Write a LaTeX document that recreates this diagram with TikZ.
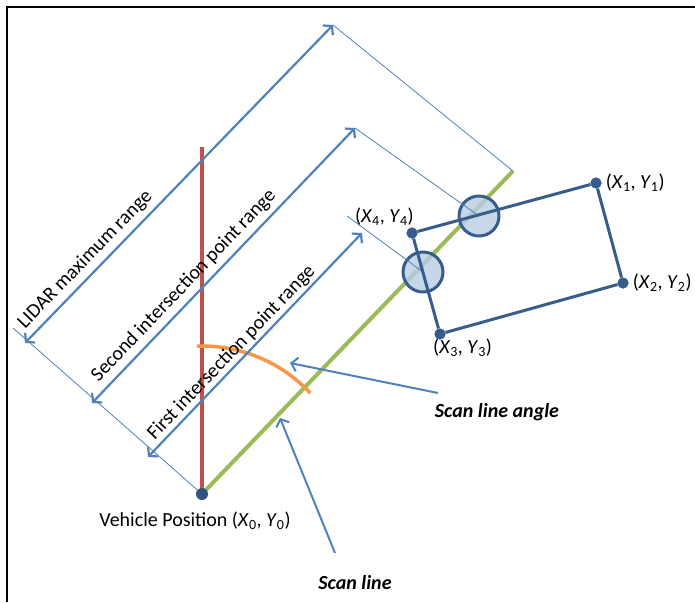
\documentclass[tikz,border=0pt]{standalone}
\usepackage{fontspec}
\setmainfont{Carlito}
\usepackage{tikz}
\usetikzlibrary{arrows.meta,positioning}
\definecolor{dimBlue}{HTML}{4F81BD}
\definecolor{objEdge}{HTML}{385D8A}
\definecolor{hitCol}{HTML}{B9CDE5}
\definecolor{scanCol}{HTML}{9BBB59}
\definecolor{headCol}{HTML}{C0504D}
\definecolor{angCol}{HTML}{F79646}
\tikzset{
  dimarr/.style={{Straight Barb[length=6pt,width=14pt]}-{Straight Barb[length=6pt,width=14pt]},
        draw=dimBlue, line width=2.2pt},
  extln/.style={draw=dimBlue, line width=0.8pt},
  ptr/.style={-{Straight Barb[length=6pt,width=14pt]}, draw=dimBlue, line width=2pt},
  corner/.style={circle, fill=objEdge, inner sep=0pt, minimum size=11pt},
  hit/.style={circle, draw=objEdge, fill=hitCol, fill opacity=0.8, line width=3pt,
        minimum size=40pt, inner sep=0pt},
  lbl/.style={font=\fontsize{20}{24}\selectfont, inner sep=0pt},
  rlbl/.style={font=\fontsize{20}{24}\selectfont, sloped, above, inner sep=#1},
  callout/.style={font=\fontsize{20}{24}\selectfont\bfseries\itshape, inner sep=0pt},
}
\newcommand{\cornerlbl}[1]{(\textit{X}\textsubscript{#1}, \textit{Y}\textsubscript{#1})}

\begin{document}
\begin{tikzpicture}[x=1pt,y=-1pt]
  \useasboundingbox (0,0) rectangle (695,602);
  \draw[line width=2.5pt] (7,602) -- (7,7) -- (695,7);
  % vehicle, heading and scan line
  \coordinate (veh) at (202,494);
  \coordinate (headTop) at (202,147);
  \coordinate (scanEnd) at (513,171);
  \draw[headCol, line width=4pt] (veh) -- (headTop);
  \draw[scanCol, line width=4pt] (veh) -- (scanEnd);
  \draw[angCol, line width=3.5pt] (veh) ++(-92:148) arc[start angle=-92, end angle=-43, radius=148];
  % object corners
  \node[corner] (p1) at (596,183) {};
  \node[corner] (p2) at (623,283) {};
  \node[corner] (p3) at (440,334) {};
  \node[corner] (p4) at (412,233) {};
  % range arrows
  \coordinate (a1s) at (25,343);  \coordinate (a1e) at (333,25);
  \coordinate (a2s) at (92,403);  \coordinate (a2e) at (355,128);
  \coordinate (a3s) at (148,457); \coordinate (a3e) at (362,233);
  \coordinate (baseTop) at (13,328);
  \coordinate (e3) at (347,216);
  \node[hit] (h1) at (479,216) {};
  \node[hit] (h2) at (423,272) {};
  \draw[extln] (baseTop) -- (veh);
  \draw[extln] (a1e) -- (scanEnd);
  \draw[extln] (a2e) -- (h1.center);
  \draw[extln] (e3) -- (h2.center);
  \draw[dimarr] (a1s) -- (a1e) node[rlbl=5pt, pos=0.23] (lidar) {LIDAR maximum range};
  \draw[dimarr] (a2s) -- (a2e) node[rlbl=5pt, pos=0.39] (second) {Second intersection point range};
  \draw[dimarr] (a3s) -- (a3e) node[rlbl=2pt, pos=0.43] (first) {First intersection point range};
  % object outline
  \draw[objEdge, line width=3pt] (p4) -- (p1) -- (p2) -- (p3) -- (p4);
  \node[corner] at (p1) {}; \node[corner] at (p2) {};
  \node[corner] at (p3) {}; \node[corner] at (p4) {};
  \node[circle, fill=objEdge!90!black, inner sep=0pt, minimum size=12pt] (vdot) at (veh) {};
  % labels
  \node[lbl, right=4pt of p1] (l1) {\cornerlbl{1}};
  \node[lbl, right=4pt of p2] (l2) {\cornerlbl{2}};
  \node[lbl, below right=1pt and -11pt of p3] (l3) {\cornerlbl{3}};
  \node[lbl, above left=3pt and -6pt of p4] (l4) {\cornerlbl{4}};
  \node[lbl, below=11pt of vdot, xshift=-7pt] (vlbl) {Vehicle Position \cornerlbl{0}};
  \node[callout] (angLbl) at (497,412) {Scan line angle};
  \node[callout] (scanLbl) at (355,583) {Scan line};
  \coordinate (angTail) at (438,393);
  \coordinate (angHead) at (290,363);
  \coordinate (scanTail) at (335,553);
  \coordinate (scanHead) at (280,418);
  \draw[ptr] (angTail) -- (angHead);
  \draw[ptr] (scanTail) -- (scanHead);
\end{tikzpicture}
\end{document}
